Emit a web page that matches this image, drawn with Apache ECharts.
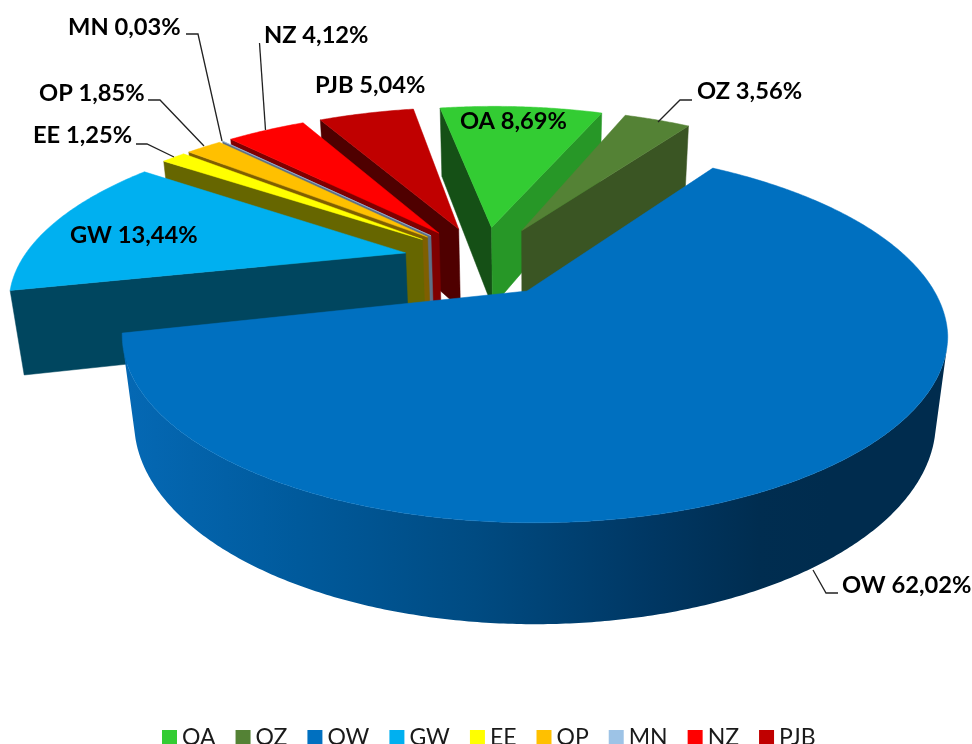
<!DOCTYPE html>
<html><head><meta charset="utf-8">
<style>html,body{margin:0;padding:0;background:#fff}#c{width:972px;height:744px}</style>
<script src="https://cdn.jsdelivr.net/npm/echarts@6/dist/echarts.min.js"></script>
</head><body><div id="c"></div>
<script>
const categories = ['OA','OZ','OW','GW','EE','OP','MN','NZ','PJB'];
const shares = [8.69,3.56,62.02,13.44,1.25,1.85,0.03,4.12,5.04];

// styles
const topColors = ['#33cc33','#548235','#0070c0','#00b0f0','#ffff00','#ffc000','#9dc3e6','#ff0000','#c00000'];
const startFace = ['#155016','#2a4119','#003a66','#00465f','#666600','#7f5f00','#5e6f86','#7f0000','#4f0000'];
const endFace   = ['#279727','#3a5523','#003a66','#00465f','#666600','#7f5f00','#5e6f86','#7f0000','#4f0000'];
const drawOrder = [0,1,8,7,6,5,4,3,2];

// label placement: [text left, text centre y]; leader polyline in page pixels
const labelLayout = {
  OA:{x:460,y:121}, OZ:{x:697,y:91,line:[[692,100],[680,100],[658,122]]},
  OW:{x:842,y:585,line:[[838,593],[826,593],[813,570]]}, GW:{x:70,y:235},
  EE:{x:33,y:135,line:[[136,144],[147,144],[174,157]]},
  OP:{x:39,y:93,line:[[148,100],[160,100],[204,146]]},
  MN:{x:68,y:27,line:[[186,34],[198,34],[222,141]]},
  NZ:{x:264,y:35,line:[[259.5,43],[265.5,130]]}, PJB:{x:315,y:85}
};

// 3D view
const firstAngle = -10.4, explode = 0.205, height = 0.241;
const cx = 527, cy = 291, S = 401, k = 0.237, sinP = 0.441;
const smallRadius = 0.985, mainDrift = 8;
const smallRimShift = [-3,-3], apexDriftX = 6.6, apexShiftY = -3;
const cosP = Math.sqrt(1 - sinP*sinP), D = cosP/k, F = S*D;
const camY = -D*cosP, camZ = D*sinP;
const rad = d => d*Math.PI/180;
const project = (X,Y,Z) => {
  const zc = D + Y*cosP - Z*sinP;
  return [cx + F*X/zc, cy - F*(Y*sinP + Z*cosP)/zc];
};

const total = shares.reduce((a,b)=>a+b,0);
const spans = []; let run = firstAngle;
shares.forEach(v => { const s = v/total*360; spans.push([run,run+s]); run += s; });
const anchorIdx = categories.indexOf('OW');
const midOf = i => rad((spans[i][0]+spans[i][1])/2);
const origin = [-explode*Math.sin(midOf(anchorIdx)), -explode*Math.cos(midOf(anchorIdx))];

function sliceShapes(i){
  const [a0,a1] = spans[i], m = midOf(i);
  const isMain = i === anchorIdx, R = isMain ? 1 : smallRadius;
  const ox = origin[0] + explode*Math.sin(m), oy = origin[1] + explode*Math.cos(m);
  const rim = (a,Z) => {
    const Y = oy + R*Math.cos(rad(a));
    const p = project(ox+R*Math.sin(rad(a)), Y, Z);
    if (isMain) p[0] += mainDrift*Math.max(0,Math.min(1,(0.83-Y)/1.07));
    else { p[0] += smallRimShift[0]; p[1] += smallRimShift[1]; }
    return p;
  };
  const apex = Z => {
    const p = project(ox,oy,Z);
    if (!isMain) { p[0] += apexDriftX*Math.max(0,Math.sin(m)); p[1] += apexShiftY; }
    return p;
  };
  const angs = []; const n = Math.max(2, Math.ceil((a1-a0)*2));
  for (let j=0;j<=n;j++) angs.push(a0+(a1-a0)*j/n);
  const out = [];
  const quad = (a,fill) => out.push({type:'polygon',shape:{points:[apex(0),rim(a,0),rim(a,-height),apex(-height)]},
    style:{fill,stroke:fill,lineWidth:0.5}});
  const sA = rad(a0), eA = rad(a1);
  if ((-Math.cos(sA))*(0-ox) + Math.sin(sA)*(camY-oy) > 0) quad(a0,startFace[i]);
  if (Math.cos(eA)*(0-ox) - Math.sin(eA)*(camY-oy) > 0) quad(a1,endFace[i]);
  // outer wall: only the part facing the camera
  const vis = angs.filter(a => {
    const s=Math.sin(rad(a)), c=Math.cos(rad(a));
    return s*(0-ox-s) + c*(camY-oy-c) > 0;
  });
  if (vis.length > 1) {
    const pts = vis.map(a=>rim(a,0)).concat(vis.slice().reverse().map(a=>rim(a,-height)));
    const fill = new echarts.graphic.LinearGradient(120,0,830,0,[
      {offset:0,color:'#0569b5'},{offset:0.25,color:'#005a9c'},{offset:0.5,color:'#004b82'},
      {offset:0.75,color:'#003763'},{offset:0.9,color:'#002d50'},{offset:1,color:'#002c4e'}],true);
    out.push({type:'polygon',shape:{points:pts},style:{fill}});
  }
  const top = [apex(0)].concat(angs.map(a=>rim(a,0)));
  out.push({type:'polygon',shape:{points:top},style:{fill:topColors[i],stroke:topColors[i],lineWidth:0.5}});
  return out;
}

const fmt = v => v.toFixed(2).replace('.',',') + '%';
const pieSeries = drawOrder.map(i => ({
  type:'custom', name:categories[i], coordinateSystem:'none', silent:true,
  itemStyle:{color:topColors[i]}, data:[[shares[i]]],
  renderItem:() => ({type:'group',children:sliceShapes(i)})
}));
const labelSeries = {
  type:'custom', name:'labels', coordinateSystem:'none', silent:true, z:5,
  data:categories.map((c,i)=>[i,shares[i]]),
  renderItem:(p,api) => {
    const i = api.value(0), c = categories[i], L = labelLayout[c], kids = [];
    if (L.line) kids.push({type:'polyline',shape:{points:L.line},style:{fill:null,stroke:'#222',lineWidth:1.3}});
    kids.push({type:'text',x:L.x,y:L.y,style:{text:c+' '+fmt(api.value(1)),fill:'#000',
      font:'bold 23.7px Lato',textAlign:'left',textVerticalAlign:'middle'}});
    return {type:'group',children:kids};
  }
};

const chart = echarts.init(document.getElementById('c'),null,{renderer:'canvas'});
chart.setOption({
  animation:false,
  backgroundColor:'#fff',
  legend:{data:categories,left:157,top:721,icon:'rect',itemWidth:15,itemHeight:15,itemGap:20,
    selectedMode:false,textStyle:{fontFamily:'Lato',fontSize:23,color:'#1a1a1a',padding:[3,0,0,0]}},
  series:pieSeries.concat(labelSeries)
});
</script></body></html>
